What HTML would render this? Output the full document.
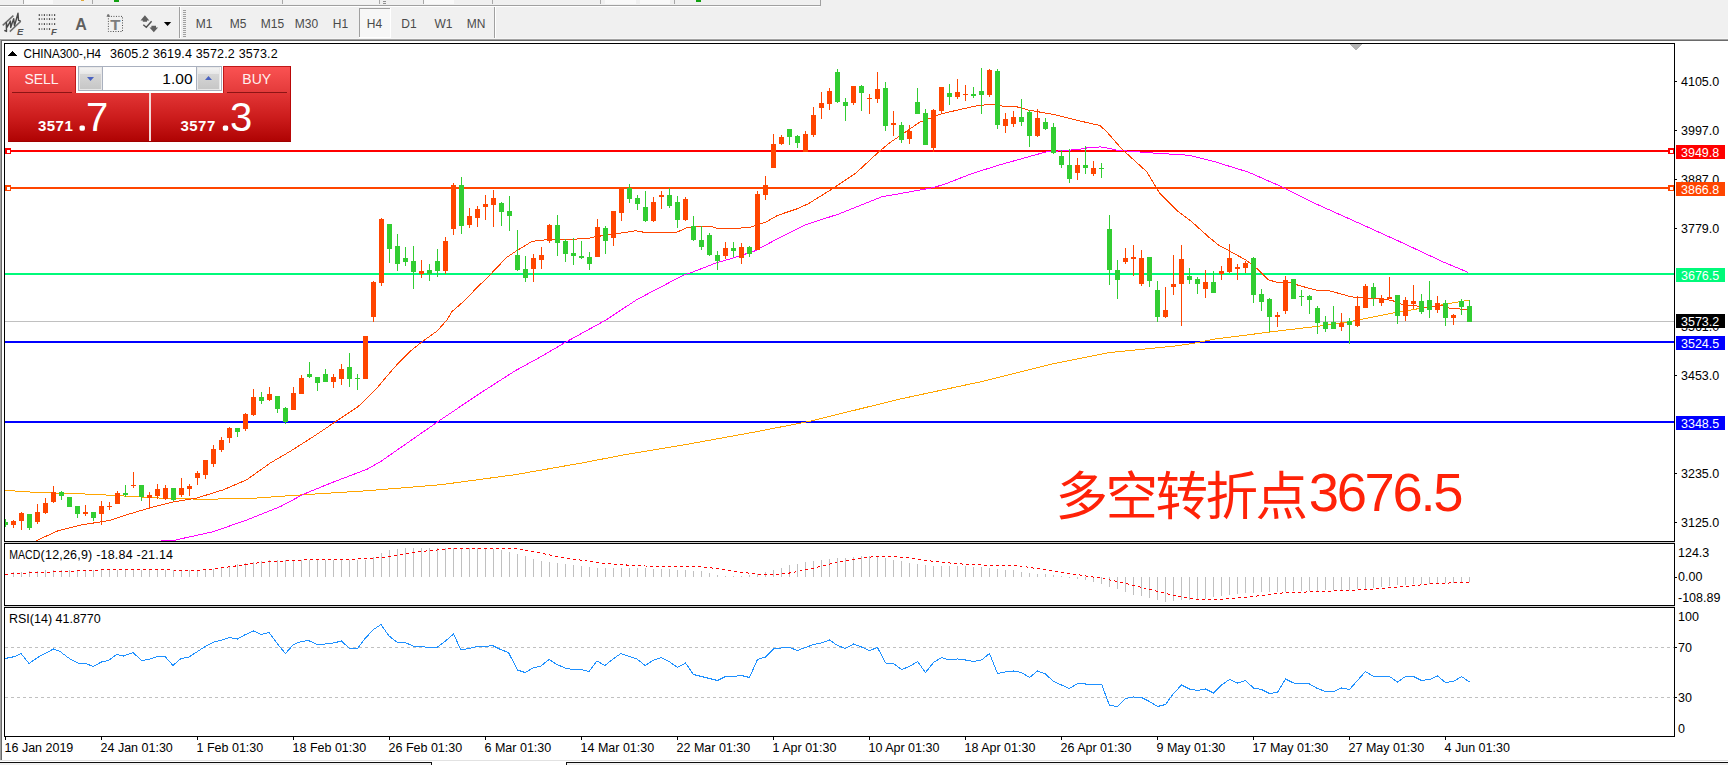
<!DOCTYPE html>
<html lang="zh"><head><meta charset="utf-8"><title>CHINA300-,H4</title>
<style>
html,body{margin:0;padding:0;width:1728px;height:765px;overflow:hidden;background:#f0f0f0}
svg{position:absolute;left:0;top:0;display:block}
text{font-family:"Liberation Sans","Noto Sans CJK SC",sans-serif;white-space:pre}
.c{shape-rendering:crispEdges}
</style></head><body>
<svg width="1728" height="765" viewBox="0 0 1728 765">
<defs>
<linearGradient id="gTab" x1="0" y1="0" x2="0" y2="1"><stop offset="0" stop-color="#fb5353"/><stop offset="1" stop-color="#e33a3a"/></linearGradient>
<linearGradient id="gBig" x1="0" y1="0" x2="0" y2="1"><stop offset="0" stop-color="#e23535"/><stop offset="0.5" stop-color="#cc1c1c"/><stop offset="1" stop-color="#ae0202"/></linearGradient>
<linearGradient id="gSpin" x1="0" y1="0" x2="0" y2="1"><stop offset="0" stop-color="#f4f4f4"/><stop offset="0.3" stop-color="#e6e6e6"/><stop offset="0.31" stop-color="#d6d6d6"/><stop offset="1" stop-color="#c6c6c6"/></linearGradient>
<clipPath id="cpMain"><rect x="5" y="44" width="1669" height="497"/></clipPath>
</defs>
<g class="c">
<rect x="0" y="0" width="1728" height="765" fill="#f0f0f0"/>
<rect x="0" y="5" width="820" height="1" fill="#a0a0a0"/>
<rect x="0" y="6" width="820" height="1" fill="#ffffff"/>
<rect x="820" y="0" width="1" height="6" fill="#a0a0a0"/>
<rect x="114" y="0" width="5" height="2" fill="#10a010"/>
<rect x="696" y="0" width="5" height="2" fill="#10a010"/>
<rect x="81" y="0" width="3" height="1" fill="#e0a838"/>
<rect x="23" y="0" width="1" height="4" fill="#a8a8a8"/>
<rect x="92" y="0" width="1" height="4" fill="#a8a8a8"/>
<rect x="282" y="0" width="1" height="4" fill="#a8a8a8"/>
<rect x="379" y="0" width="1" height="4" fill="#a8a8a8"/>
<rect x="423" y="0" width="1" height="4" fill="#a8a8a8"/>
<rect x="492" y="0" width="1" height="4" fill="#a8a8a8"/>
<rect x="600" y="0" width="1" height="4" fill="#a8a8a8"/>
<rect x="674" y="0" width="1" height="4" fill="#a8a8a8"/>
<rect x="24" y="0" width="29" height="4" fill="#f9f9f9"/>
<rect x="424" y="0" width="30" height="4" fill="#f9f9f9"/>
<rect x="605" y="0" width="31" height="4" fill="#f9f9f9"/>
<rect x="640" y="0" width="30" height="4" fill="#f9f9f9"/>
<rect x="283" y="0" width="96" height="4" fill="#f3f3f3"/>
<rect x="383" y="1" width="3" height="1" fill="#909090"/>
<rect x="383" y="3" width="3" height="1" fill="#909090"/>
<rect x="179" y="7" width="1" height="32" fill="#a0a0a0"/>
<rect x="180" y="7" width="1" height="32" fill="#ffffff"/>
<rect x="183" y="10" width="3" height="1" fill="#a0a0a0"/>
<rect x="183" y="12" width="3" height="1" fill="#a0a0a0"/>
<rect x="183" y="14" width="3" height="1" fill="#a0a0a0"/>
<rect x="183" y="16" width="3" height="1" fill="#a0a0a0"/>
<rect x="183" y="18" width="3" height="1" fill="#a0a0a0"/>
<rect x="183" y="20" width="3" height="1" fill="#a0a0a0"/>
<rect x="183" y="22" width="3" height="1" fill="#a0a0a0"/>
<rect x="183" y="24" width="3" height="1" fill="#a0a0a0"/>
<rect x="183" y="26" width="3" height="1" fill="#a0a0a0"/>
<rect x="183" y="28" width="3" height="1" fill="#a0a0a0"/>
<rect x="183" y="30" width="3" height="1" fill="#a0a0a0"/>
<rect x="183" y="32" width="3" height="1" fill="#a0a0a0"/>
<rect x="183" y="34" width="3" height="1" fill="#a0a0a0"/>
<rect x="183" y="36" width="3" height="1" fill="#a0a0a0"/>
<rect x="494" y="7" width="1" height="32" fill="#a0a0a0"/>
<rect x="495" y="7" width="1" height="32" fill="#ffffff"/>
<rect x="359" y="8" width="31" height="29" fill="#f7f7f7"/>
<rect x="359" y="8" width="1" height="29" fill="#a0a0a0"/>
<rect x="359" y="8" width="31" height="1" fill="#a0a0a0"/>
<rect x="390" y="8" width="1" height="29" fill="#ffffff"/>
<rect x="359" y="37" width="32" height="1" fill="#ffffff"/>
<rect x="0" y="38" width="1728" height="1" fill="#f6f6f6"/>
<rect x="0" y="39" width="1728" height="1" fill="#a3a3a3"/>
<rect x="0" y="40" width="1728" height="1" fill="#6a6a6a"/>
<rect x="0" y="41" width="1728" height="720" fill="#ffffff"/>
<rect x="0" y="39" width="1" height="722" fill="#a0a0a0"/>
<rect x="1" y="40" width="1" height="721" fill="#696969"/>
<rect x="0" y="760" width="1728" height="1" fill="#e2e2e2"/>
<rect x="0" y="761" width="1728" height="4" fill="#ffffff"/>
<rect x="0" y="762" width="432" height="1" fill="#101010"/>
<rect x="566" y="762" width="1162" height="1" fill="#101010"/>
<rect x="0" y="763" width="431" height="2" fill="#f0f0f0"/>
<rect x="567" y="763" width="1161" height="2" fill="#f0f0f0"/>
<rect x="431" y="762" width="1" height="3" fill="#101010"/>
<rect x="566" y="762" width="1" height="3" fill="#101010"/>
<rect x="4" y="43" width="1671" height="1" fill="#000"/>
<rect x="4" y="541" width="1671" height="1" fill="#000"/>
<rect x="4" y="43" width="1" height="499" fill="#000"/>
<rect x="1674" y="43" width="1" height="499" fill="#000"/>
<rect x="4" y="542" width="1671" height="1" fill="#d0d0d0"/>
<rect x="4" y="543" width="1671" height="1" fill="#000"/>
<rect x="4" y="605" width="1671" height="1" fill="#000"/>
<rect x="4" y="543" width="1" height="63" fill="#000"/>
<rect x="1674" y="543" width="1" height="63" fill="#000"/>
<rect x="4" y="606" width="1671" height="1" fill="#d0d0d0"/>
<rect x="4" y="607" width="1671" height="1" fill="#000"/>
<rect x="4" y="736" width="1671" height="1" fill="#000"/>
<rect x="4" y="607" width="1" height="130" fill="#000"/>
<rect x="1674" y="607" width="1" height="130" fill="#000"/>
</g>
<g class="c" clip-path="url(#cpMain)">
<polygon points="1349,44 1362,44 1355.5,50.5" fill="#b4b4b4"/>
<rect x="5" y="321" width="1669" height="1" fill="#c0c0c0"/>
<rect x="5" y="150" width="1669" height="2" fill="#FF0000"/>
<rect x="5" y="187" width="1669" height="2" fill="#FF4500"/>
<rect x="5" y="273" width="1669" height="2" fill="#00FA7A"/>
<rect x="5" y="341" width="1669" height="2" fill="#0000FF"/>
<rect x="5" y="421" width="1669" height="2" fill="#0000FF"/>
<rect x="5" y="148" width="6" height="6" fill="#FF0000"/>
<rect x="6.5" y="149.5" width="3" height="3" fill="#fff"/>
<rect x="1668" y="148" width="6" height="6" fill="#FF0000"/>
<rect x="1669.5" y="149.5" width="3" height="3" fill="#fff"/>
<rect x="5" y="185" width="6" height="6" fill="#FF4500"/>
<rect x="6.5" y="186.5" width="3" height="3" fill="#fff"/>
<rect x="1668" y="185" width="6" height="6" fill="#FF4500"/>
<rect x="1669.5" y="186.5" width="3" height="3" fill="#fff"/>
<polyline points="5.0,490.3 34.7,492.3 81.0,493.8 115.7,495.5 138.9,496.9 162.0,498.2 185.0,498.8 200.0,499.2 247.0,498.7 304.0,494.7 368.0,490.7 441.8,484.6 515.7,474.6 582.8,462.8 626.5,454.4 683.5,445.0 750.0,432.9 809.0,421.5 897.9,399.5 982.4,381.4 1054.0,363.6 1109.0,352.6 1172.5,346.3 1193.6,343.3 1214.7,339.1 1278.0,331.0 1317.0,326.4 1349.5,321.7 1367.0,318.3 1391.7,313.3 1416.6,309.0 1441.4,304.9 1458.8,301.9 1468.7,300.3" fill="none" stroke="#FFA500" stroke-width="1"/>
<polyline points="160.9,540.9 173.6,540.5 180.0,539.0 213.6,531.6 247.0,519.9 280.7,506.4 304.0,494.0 331.0,483.0 368.0,468.8 381.4,461.0 415.0,437.6 441.8,419.0 482.0,392.0 515.7,370.5 540.0,357.2 566.0,342.0 606.0,320.0 637.0,299.5 683.0,275.4 691.4,272.5 717.0,262.6 730.0,258.9 754.0,251.3 779.5,237.7 805.0,225.0 839.0,213.9 881.4,196.9 920.0,190.0 931.7,187.9 944.0,184.5 969.7,174.4 995.0,166.3 1003.5,163.8 1046.0,151.9 1080.0,149.3 1088.0,147.7 1100.7,146.9 1110.0,148.5 1117.6,150.3 1155.6,153.2 1189.4,155.3 1214.7,161.7 1248.5,172.2 1282.3,187.0 1316.0,203.9 1358.4,222.9 1400.6,242.0 1442.9,261.8 1468.2,272.4" fill="none" stroke="#FF00FF" stroke-width="1"/>
<polyline points="35.9,540.9 57.9,530.8 81.0,525.0 110.0,520.4 127.3,514.6 149.3,508.0 173.6,501.9 196.8,498.0 223.6,489.7 247.0,479.6 270.6,462.8 290.8,451.0 314.3,436.0 334.4,422.5 358.0,406.7 374.7,390.6 394.8,367.0 409.7,351.6 421.7,342.0 436.9,331.2 447.0,320.0 452.0,311.6 465.7,299.5 475.9,288.7 489.5,275.4 506.5,257.5 516.7,250.7 532.0,241.4 547.0,239.7 586.0,238.8 596.3,236.6 616.7,233.7 635.4,230.8 645.5,232.5 666.0,232.4 676.0,232.5 686.3,228.0 700.0,226.0 710.0,226.0 717.0,228.3 737.0,228.4 750.6,227.2 765.9,222.0 777.8,215.3 798.0,208.5 808.4,203.7 830.5,190.0 856.0,173.0 879.7,151.0 890.0,142.6 907.0,131.0 920.0,122.0 932.0,117.5 942.0,113.6 978.0,105.5 991.6,104.3 1001.8,106.0 1015.0,106.3 1029.0,110.2 1054.0,114.5 1080.0,121.0 1100.0,125.5 1107.0,132.0 1121.8,149.0 1147.0,172.0 1159.8,193.4 1176.7,210.3 1192.0,222.0 1209.0,237.3 1219.0,245.4 1229.3,250.9 1246.3,260.2 1258.2,269.6 1268.4,279.8 1276.9,282.3 1290.0,282.3 1298.6,285.4 1317.2,290.4 1329.7,290.8 1348.3,296.0 1357.0,297.8 1373.0,298.2 1391.7,300.3 1404.0,305.0 1416.6,305.9 1426.5,308.0 1441.4,305.3 1450.0,308.4 1466.2,309.4 1467.5,309.6" fill="none" stroke="#FF4500" stroke-width="1"/>
<rect x="5" y="519" width="1" height="8" fill="#32CD32"/>
<rect x="3" y="522" width="5" height="3" fill="#32CD32"/>
<rect x="13" y="520" width="1" height="8" fill="#FF4500"/>
<rect x="11" y="521" width="5" height="4" fill="#FF4500"/>
<rect x="21" y="512" width="1" height="18" fill="#FF4500"/>
<rect x="19" y="513" width="5" height="8" fill="#FF4500"/>
<rect x="29" y="514" width="1" height="16" fill="#32CD32"/>
<rect x="27" y="514" width="5" height="14" fill="#32CD32"/>
<rect x="37" y="504" width="1" height="20" fill="#FF4500"/>
<rect x="35" y="512" width="5" height="10" fill="#FF4500"/>
<rect x="45" y="498" width="1" height="16" fill="#FF4500"/>
<rect x="43" y="503" width="5" height="10" fill="#FF4500"/>
<rect x="53" y="486" width="1" height="17" fill="#FF4500"/>
<rect x="51" y="492" width="5" height="10" fill="#FF4500"/>
<rect x="61" y="491" width="1" height="9" fill="#32CD32"/>
<rect x="59" y="492" width="5" height="4" fill="#32CD32"/>
<rect x="69" y="497" width="1" height="10" fill="#32CD32"/>
<rect x="67" y="497" width="5" height="10" fill="#32CD32"/>
<rect x="77" y="506" width="1" height="12" fill="#32CD32"/>
<rect x="75" y="506" width="5" height="8" fill="#32CD32"/>
<rect x="85" y="505" width="1" height="11" fill="#FF4500"/>
<rect x="83" y="512" width="5" height="2" fill="#FF4500"/>
<rect x="93" y="512" width="1" height="9" fill="#32CD32"/>
<rect x="91" y="512" width="5" height="6" fill="#32CD32"/>
<rect x="101" y="501" width="1" height="24" fill="#FF4500"/>
<rect x="99" y="506" width="5" height="8" fill="#FF4500"/>
<rect x="109" y="502" width="1" height="8" fill="#FF4500"/>
<rect x="107" y="506" width="5" height="1" fill="#FF4500"/>
<rect x="117" y="491" width="1" height="13" fill="#FF4500"/>
<rect x="115" y="493" width="5" height="11" fill="#FF4500"/>
<rect x="125" y="485" width="1" height="12" fill="#32CD32"/>
<rect x="123" y="493" width="5" height="2" fill="#32CD32"/>
<rect x="133" y="472" width="1" height="16" fill="#FF4500"/>
<rect x="131" y="485" width="5" height="1" fill="#FF4500"/>
<rect x="141" y="485" width="1" height="16" fill="#32CD32"/>
<rect x="139" y="485" width="5" height="12" fill="#32CD32"/>
<rect x="149" y="492" width="1" height="17" fill="#FF4500"/>
<rect x="147" y="495" width="5" height="3" fill="#FF4500"/>
<rect x="157" y="484" width="1" height="15" fill="#FF4500"/>
<rect x="155" y="489" width="5" height="7" fill="#FF4500"/>
<rect x="165" y="485" width="1" height="15" fill="#FF4500"/>
<rect x="163" y="488" width="5" height="11" fill="#FF4500"/>
<rect x="173" y="488" width="1" height="13" fill="#32CD32"/>
<rect x="171" y="488" width="5" height="12" fill="#32CD32"/>
<rect x="181" y="478" width="1" height="19" fill="#FF4500"/>
<rect x="179" y="488" width="5" height="7" fill="#FF4500"/>
<rect x="189" y="484" width="1" height="12" fill="#FF4500"/>
<rect x="187" y="486" width="5" height="3" fill="#FF4500"/>
<rect x="197" y="471" width="1" height="14" fill="#FF4500"/>
<rect x="195" y="473" width="5" height="5" fill="#FF4500"/>
<rect x="205" y="460" width="1" height="19" fill="#FF4500"/>
<rect x="203" y="460" width="5" height="15" fill="#FF4500"/>
<rect x="213" y="445" width="1" height="22" fill="#FF4500"/>
<rect x="211" y="449" width="5" height="15" fill="#FF4500"/>
<rect x="221" y="437" width="1" height="15" fill="#FF4500"/>
<rect x="219" y="440" width="5" height="10" fill="#FF4500"/>
<rect x="229" y="427" width="1" height="16" fill="#FF4500"/>
<rect x="227" y="428" width="5" height="10" fill="#FF4500"/>
<rect x="237" y="428" width="1" height="9" fill="#32CD32"/>
<rect x="235" y="428" width="5" height="4" fill="#32CD32"/>
<rect x="245" y="413" width="1" height="18" fill="#FF4500"/>
<rect x="243" y="414" width="5" height="15" fill="#FF4500"/>
<rect x="253" y="389" width="1" height="27" fill="#FF4500"/>
<rect x="251" y="397" width="5" height="18" fill="#FF4500"/>
<rect x="261" y="392" width="1" height="12" fill="#32CD32"/>
<rect x="259" y="397" width="5" height="4" fill="#32CD32"/>
<rect x="269" y="387" width="1" height="14" fill="#FF4500"/>
<rect x="267" y="394" width="5" height="6" fill="#FF4500"/>
<rect x="277" y="396" width="1" height="17" fill="#32CD32"/>
<rect x="275" y="396" width="5" height="13" fill="#32CD32"/>
<rect x="285" y="407" width="1" height="17" fill="#32CD32"/>
<rect x="283" y="408" width="5" height="14" fill="#32CD32"/>
<rect x="293" y="387" width="1" height="23" fill="#FF4500"/>
<rect x="291" y="393" width="5" height="17" fill="#FF4500"/>
<rect x="301" y="375" width="1" height="19" fill="#FF4500"/>
<rect x="299" y="378" width="5" height="16" fill="#FF4500"/>
<rect x="309" y="362" width="1" height="16" fill="#32CD32"/>
<rect x="307" y="374" width="5" height="3" fill="#32CD32"/>
<rect x="317" y="377" width="1" height="14" fill="#32CD32"/>
<rect x="315" y="377" width="5" height="6" fill="#32CD32"/>
<rect x="325" y="369" width="1" height="13" fill="#32CD32"/>
<rect x="323" y="374" width="5" height="8" fill="#32CD32"/>
<rect x="333" y="374" width="1" height="14" fill="#FF4500"/>
<rect x="331" y="377" width="5" height="5" fill="#FF4500"/>
<rect x="341" y="364" width="1" height="21" fill="#FF4500"/>
<rect x="339" y="369" width="5" height="10" fill="#FF4500"/>
<rect x="349" y="353" width="1" height="34" fill="#32CD32"/>
<rect x="347" y="367" width="5" height="12" fill="#32CD32"/>
<rect x="357" y="374" width="1" height="16" fill="#32CD32"/>
<rect x="355" y="378" width="5" height="1" fill="#32CD32"/>
<rect x="365" y="336" width="1" height="43" fill="#FF4500"/>
<rect x="363" y="336" width="5" height="43" fill="#FF4500"/>
<rect x="373" y="281" width="1" height="41" fill="#FF4500"/>
<rect x="371" y="282" width="5" height="35" fill="#FF4500"/>
<rect x="381" y="218" width="1" height="68" fill="#FF4500"/>
<rect x="379" y="219" width="5" height="64" fill="#FF4500"/>
<rect x="389" y="224" width="1" height="39" fill="#32CD32"/>
<rect x="387" y="224" width="5" height="25" fill="#32CD32"/>
<rect x="397" y="234" width="1" height="37" fill="#32CD32"/>
<rect x="395" y="246" width="5" height="18" fill="#32CD32"/>
<rect x="405" y="247" width="1" height="19" fill="#32CD32"/>
<rect x="403" y="258" width="5" height="4" fill="#32CD32"/>
<rect x="413" y="246" width="1" height="43" fill="#32CD32"/>
<rect x="411" y="261" width="5" height="11" fill="#32CD32"/>
<rect x="421" y="260" width="1" height="18" fill="#FF4500"/>
<rect x="419" y="271" width="5" height="3" fill="#FF4500"/>
<rect x="429" y="264" width="1" height="17" fill="#32CD32"/>
<rect x="427" y="270" width="5" height="4" fill="#32CD32"/>
<rect x="437" y="249" width="1" height="28" fill="#32CD32"/>
<rect x="435" y="261" width="5" height="10" fill="#32CD32"/>
<rect x="445" y="237" width="1" height="37" fill="#FF4500"/>
<rect x="443" y="241" width="5" height="30" fill="#FF4500"/>
<rect x="453" y="183" width="1" height="52" fill="#FF4500"/>
<rect x="451" y="185" width="5" height="44" fill="#FF4500"/>
<rect x="461" y="177" width="1" height="57" fill="#32CD32"/>
<rect x="459" y="185" width="5" height="41" fill="#32CD32"/>
<rect x="469" y="208" width="1" height="20" fill="#FF4500"/>
<rect x="467" y="216" width="5" height="9" fill="#FF4500"/>
<rect x="477" y="206" width="1" height="21" fill="#FF4500"/>
<rect x="475" y="209" width="5" height="9" fill="#FF4500"/>
<rect x="485" y="195" width="1" height="25" fill="#FF4500"/>
<rect x="483" y="204" width="5" height="3" fill="#FF4500"/>
<rect x="493" y="190" width="1" height="37" fill="#FF4500"/>
<rect x="491" y="198" width="5" height="7" fill="#FF4500"/>
<rect x="501" y="202" width="1" height="24" fill="#32CD32"/>
<rect x="499" y="203" width="5" height="9" fill="#32CD32"/>
<rect x="509" y="196" width="1" height="35" fill="#32CD32"/>
<rect x="507" y="211" width="5" height="5" fill="#32CD32"/>
<rect x="517" y="230" width="1" height="41" fill="#32CD32"/>
<rect x="515" y="255" width="5" height="15" fill="#32CD32"/>
<rect x="525" y="256" width="1" height="26" fill="#32CD32"/>
<rect x="523" y="269" width="5" height="9" fill="#32CD32"/>
<rect x="533" y="254" width="1" height="28" fill="#FF4500"/>
<rect x="531" y="258" width="5" height="11" fill="#FF4500"/>
<rect x="541" y="247" width="1" height="22" fill="#FF4500"/>
<rect x="539" y="255" width="5" height="5" fill="#FF4500"/>
<rect x="549" y="224" width="1" height="19" fill="#FF4500"/>
<rect x="547" y="225" width="5" height="16" fill="#FF4500"/>
<rect x="557" y="215" width="1" height="41" fill="#32CD32"/>
<rect x="555" y="225" width="5" height="18" fill="#32CD32"/>
<rect x="565" y="239" width="1" height="23" fill="#32CD32"/>
<rect x="563" y="241" width="5" height="13" fill="#32CD32"/>
<rect x="573" y="238" width="1" height="27" fill="#32CD32"/>
<rect x="571" y="253" width="5" height="3" fill="#32CD32"/>
<rect x="581" y="241" width="1" height="18" fill="#32CD32"/>
<rect x="579" y="256" width="5" height="2" fill="#32CD32"/>
<rect x="589" y="252" width="1" height="18" fill="#32CD32"/>
<rect x="587" y="257" width="5" height="7" fill="#32CD32"/>
<rect x="597" y="219" width="1" height="38" fill="#FF4500"/>
<rect x="595" y="227" width="5" height="30" fill="#FF4500"/>
<rect x="605" y="226" width="1" height="28" fill="#32CD32"/>
<rect x="603" y="228" width="5" height="13" fill="#32CD32"/>
<rect x="613" y="211" width="1" height="35" fill="#FF4500"/>
<rect x="611" y="211" width="5" height="27" fill="#FF4500"/>
<rect x="621" y="188" width="1" height="33" fill="#FF4500"/>
<rect x="619" y="188" width="5" height="25" fill="#FF4500"/>
<rect x="629" y="184" width="1" height="19" fill="#32CD32"/>
<rect x="627" y="188" width="5" height="11" fill="#32CD32"/>
<rect x="637" y="195" width="1" height="15" fill="#32CD32"/>
<rect x="635" y="198" width="5" height="6" fill="#32CD32"/>
<rect x="645" y="191" width="1" height="31" fill="#32CD32"/>
<rect x="643" y="207" width="5" height="14" fill="#32CD32"/>
<rect x="653" y="197" width="1" height="25" fill="#FF4500"/>
<rect x="651" y="202" width="5" height="19" fill="#FF4500"/>
<rect x="661" y="191" width="1" height="18" fill="#FF4500"/>
<rect x="659" y="195" width="5" height="2" fill="#FF4500"/>
<rect x="669" y="188" width="1" height="20" fill="#32CD32"/>
<rect x="667" y="195" width="5" height="11" fill="#32CD32"/>
<rect x="677" y="196" width="1" height="32" fill="#32CD32"/>
<rect x="675" y="202" width="5" height="18" fill="#32CD32"/>
<rect x="685" y="197" width="1" height="24" fill="#FF4500"/>
<rect x="683" y="199" width="5" height="21" fill="#FF4500"/>
<rect x="693" y="216" width="1" height="25" fill="#32CD32"/>
<rect x="691" y="226" width="5" height="14" fill="#32CD32"/>
<rect x="701" y="226" width="1" height="24" fill="#32CD32"/>
<rect x="699" y="240" width="5" height="7" fill="#32CD32"/>
<rect x="709" y="233" width="1" height="23" fill="#32CD32"/>
<rect x="707" y="235" width="5" height="20" fill="#32CD32"/>
<rect x="717" y="251" width="1" height="19" fill="#32CD32"/>
<rect x="715" y="255" width="5" height="6" fill="#32CD32"/>
<rect x="725" y="242" width="1" height="17" fill="#FF4500"/>
<rect x="723" y="248" width="5" height="8" fill="#FF4500"/>
<rect x="733" y="242" width="1" height="15" fill="#32CD32"/>
<rect x="731" y="248" width="5" height="3" fill="#32CD32"/>
<rect x="741" y="243" width="1" height="21" fill="#FF4500"/>
<rect x="739" y="247" width="5" height="11" fill="#FF4500"/>
<rect x="749" y="246" width="1" height="11" fill="#32CD32"/>
<rect x="747" y="247" width="5" height="7" fill="#32CD32"/>
<rect x="757" y="191" width="1" height="59" fill="#FF4500"/>
<rect x="755" y="194" width="5" height="56" fill="#FF4500"/>
<rect x="765" y="176" width="1" height="24" fill="#FF4500"/>
<rect x="763" y="185" width="5" height="10" fill="#FF4500"/>
<rect x="773" y="134" width="1" height="34" fill="#FF4500"/>
<rect x="771" y="144" width="5" height="24" fill="#FF4500"/>
<rect x="781" y="135" width="1" height="10" fill="#FF4500"/>
<rect x="779" y="137" width="5" height="7" fill="#FF4500"/>
<rect x="789" y="129" width="1" height="16" fill="#32CD32"/>
<rect x="787" y="129" width="5" height="8" fill="#32CD32"/>
<rect x="797" y="135" width="1" height="13" fill="#32CD32"/>
<rect x="795" y="136" width="5" height="7" fill="#32CD32"/>
<rect x="805" y="131" width="1" height="21" fill="#FF4500"/>
<rect x="803" y="134" width="5" height="18" fill="#FF4500"/>
<rect x="813" y="107" width="1" height="30" fill="#FF4500"/>
<rect x="811" y="115" width="5" height="20" fill="#FF4500"/>
<rect x="821" y="92" width="1" height="27" fill="#FF4500"/>
<rect x="819" y="103" width="5" height="5" fill="#FF4500"/>
<rect x="829" y="88" width="1" height="22" fill="#FF4500"/>
<rect x="827" y="91" width="5" height="13" fill="#FF4500"/>
<rect x="837" y="69" width="1" height="34" fill="#32CD32"/>
<rect x="835" y="72" width="5" height="30" fill="#32CD32"/>
<rect x="845" y="98" width="1" height="23" fill="#32CD32"/>
<rect x="843" y="102" width="5" height="4" fill="#32CD32"/>
<rect x="853" y="86" width="1" height="19" fill="#FF4500"/>
<rect x="851" y="86" width="5" height="17" fill="#FF4500"/>
<rect x="861" y="85" width="1" height="26" fill="#32CD32"/>
<rect x="859" y="86" width="5" height="7" fill="#32CD32"/>
<rect x="869" y="94" width="1" height="20" fill="#FF4500"/>
<rect x="867" y="98" width="5" height="1" fill="#FF4500"/>
<rect x="877" y="72" width="1" height="31" fill="#FF4500"/>
<rect x="875" y="89" width="5" height="10" fill="#FF4500"/>
<rect x="885" y="82" width="1" height="49" fill="#32CD32"/>
<rect x="883" y="88" width="5" height="38" fill="#32CD32"/>
<rect x="893" y="111" width="1" height="25" fill="#FF4500"/>
<rect x="891" y="123" width="5" height="2" fill="#FF4500"/>
<rect x="901" y="122" width="1" height="21" fill="#32CD32"/>
<rect x="899" y="125" width="5" height="15" fill="#32CD32"/>
<rect x="909" y="125" width="1" height="19" fill="#FF4500"/>
<rect x="907" y="131" width="5" height="8" fill="#FF4500"/>
<rect x="917" y="88" width="1" height="26" fill="#32CD32"/>
<rect x="915" y="102" width="5" height="12" fill="#32CD32"/>
<rect x="925" y="109" width="1" height="36" fill="#32CD32"/>
<rect x="923" y="113" width="5" height="32" fill="#32CD32"/>
<rect x="933" y="109" width="1" height="43" fill="#FF4500"/>
<rect x="931" y="110" width="5" height="38" fill="#FF4500"/>
<rect x="941" y="87" width="1" height="27" fill="#FF4500"/>
<rect x="939" y="87" width="5" height="24" fill="#FF4500"/>
<rect x="949" y="84" width="1" height="21" fill="#32CD32"/>
<rect x="947" y="93" width="5" height="4" fill="#32CD32"/>
<rect x="957" y="79" width="1" height="20" fill="#FF4500"/>
<rect x="955" y="92" width="5" height="5" fill="#FF4500"/>
<rect x="965" y="85" width="1" height="16" fill="#FF4500"/>
<rect x="963" y="94" width="5" height="1" fill="#FF4500"/>
<rect x="973" y="87" width="1" height="11" fill="#32CD32"/>
<rect x="971" y="94" width="5" height="2" fill="#32CD32"/>
<rect x="981" y="68" width="1" height="46" fill="#32CD32"/>
<rect x="979" y="91" width="5" height="4" fill="#32CD32"/>
<rect x="989" y="69" width="1" height="28" fill="#FF4500"/>
<rect x="987" y="70" width="5" height="25" fill="#FF4500"/>
<rect x="997" y="69" width="1" height="60" fill="#32CD32"/>
<rect x="995" y="71" width="5" height="54" fill="#32CD32"/>
<rect x="1005" y="113" width="1" height="20" fill="#FF4500"/>
<rect x="1003" y="119" width="5" height="7" fill="#FF4500"/>
<rect x="1013" y="111" width="1" height="16" fill="#FF4500"/>
<rect x="1011" y="117" width="5" height="7" fill="#FF4500"/>
<rect x="1021" y="99" width="1" height="27" fill="#32CD32"/>
<rect x="1019" y="117" width="5" height="5" fill="#32CD32"/>
<rect x="1029" y="110" width="1" height="37" fill="#32CD32"/>
<rect x="1027" y="112" width="5" height="24" fill="#32CD32"/>
<rect x="1037" y="109" width="1" height="28" fill="#FF4500"/>
<rect x="1035" y="118" width="5" height="18" fill="#FF4500"/>
<rect x="1045" y="118" width="1" height="12" fill="#32CD32"/>
<rect x="1043" y="122" width="5" height="7" fill="#32CD32"/>
<rect x="1053" y="123" width="1" height="31" fill="#32CD32"/>
<rect x="1051" y="127" width="5" height="26" fill="#32CD32"/>
<rect x="1061" y="150" width="1" height="18" fill="#32CD32"/>
<rect x="1059" y="156" width="5" height="9" fill="#32CD32"/>
<rect x="1069" y="149" width="1" height="34" fill="#32CD32"/>
<rect x="1067" y="165" width="5" height="14" fill="#32CD32"/>
<rect x="1077" y="158" width="1" height="22" fill="#FF4500"/>
<rect x="1075" y="165" width="5" height="8" fill="#FF4500"/>
<rect x="1085" y="146" width="1" height="28" fill="#32CD32"/>
<rect x="1083" y="165" width="5" height="3" fill="#32CD32"/>
<rect x="1093" y="161" width="1" height="15" fill="#FF4500"/>
<rect x="1091" y="168" width="5" height="6" fill="#FF4500"/>
<rect x="1101" y="163" width="1" height="15" fill="#32CD32"/>
<rect x="1099" y="168" width="5" height="1" fill="#32CD32"/>
<rect x="1109" y="215" width="1" height="70" fill="#32CD32"/>
<rect x="1107" y="229" width="5" height="41" fill="#32CD32"/>
<rect x="1117" y="260" width="1" height="39" fill="#32CD32"/>
<rect x="1115" y="270" width="5" height="10" fill="#32CD32"/>
<rect x="1125" y="248" width="1" height="16" fill="#FF4500"/>
<rect x="1123" y="258" width="5" height="4" fill="#FF4500"/>
<rect x="1133" y="245" width="1" height="31" fill="#FF4500"/>
<rect x="1131" y="257" width="5" height="2" fill="#FF4500"/>
<rect x="1141" y="250" width="1" height="36" fill="#FF4500"/>
<rect x="1139" y="258" width="5" height="26" fill="#FF4500"/>
<rect x="1149" y="257" width="1" height="30" fill="#32CD32"/>
<rect x="1147" y="257" width="5" height="24" fill="#32CD32"/>
<rect x="1157" y="281" width="1" height="41" fill="#32CD32"/>
<rect x="1155" y="290" width="5" height="27" fill="#32CD32"/>
<rect x="1165" y="287" width="1" height="31" fill="#FF4500"/>
<rect x="1163" y="310" width="5" height="7" fill="#FF4500"/>
<rect x="1173" y="255" width="1" height="40" fill="#FF4500"/>
<rect x="1171" y="284" width="5" height="3" fill="#FF4500"/>
<rect x="1181" y="245" width="1" height="81" fill="#FF4500"/>
<rect x="1179" y="259" width="5" height="25" fill="#FF4500"/>
<rect x="1189" y="268" width="1" height="16" fill="#32CD32"/>
<rect x="1187" y="276" width="5" height="4" fill="#32CD32"/>
<rect x="1197" y="277" width="1" height="17" fill="#32CD32"/>
<rect x="1195" y="279" width="5" height="5" fill="#32CD32"/>
<rect x="1205" y="270" width="1" height="28" fill="#FF4500"/>
<rect x="1203" y="282" width="5" height="7" fill="#FF4500"/>
<rect x="1213" y="271" width="1" height="22" fill="#32CD32"/>
<rect x="1211" y="282" width="5" height="11" fill="#32CD32"/>
<rect x="1221" y="266" width="1" height="14" fill="#FF4500"/>
<rect x="1219" y="271" width="5" height="3" fill="#FF4500"/>
<rect x="1229" y="244" width="1" height="29" fill="#FF4500"/>
<rect x="1227" y="258" width="5" height="14" fill="#FF4500"/>
<rect x="1237" y="264" width="1" height="16" fill="#FF4500"/>
<rect x="1235" y="267" width="5" height="2" fill="#FF4500"/>
<rect x="1245" y="261" width="1" height="12" fill="#FF4500"/>
<rect x="1243" y="263" width="5" height="5" fill="#FF4500"/>
<rect x="1253" y="257" width="1" height="46" fill="#32CD32"/>
<rect x="1251" y="258" width="5" height="37" fill="#32CD32"/>
<rect x="1261" y="289" width="1" height="22" fill="#32CD32"/>
<rect x="1259" y="294" width="5" height="8" fill="#32CD32"/>
<rect x="1269" y="298" width="1" height="34" fill="#32CD32"/>
<rect x="1267" y="299" width="5" height="18" fill="#32CD32"/>
<rect x="1277" y="312" width="1" height="15" fill="#FF4500"/>
<rect x="1275" y="315" width="5" height="2" fill="#FF4500"/>
<rect x="1285" y="276" width="1" height="38" fill="#FF4500"/>
<rect x="1283" y="280" width="5" height="31" fill="#FF4500"/>
<rect x="1293" y="279" width="1" height="20" fill="#32CD32"/>
<rect x="1291" y="279" width="5" height="20" fill="#32CD32"/>
<rect x="1301" y="290" width="1" height="16" fill="#32CD32"/>
<rect x="1299" y="296" width="5" height="1" fill="#32CD32"/>
<rect x="1309" y="295" width="1" height="19" fill="#32CD32"/>
<rect x="1307" y="296" width="5" height="4" fill="#32CD32"/>
<rect x="1317" y="306" width="1" height="28" fill="#32CD32"/>
<rect x="1315" y="308" width="5" height="15" fill="#32CD32"/>
<rect x="1325" y="316" width="1" height="16" fill="#32CD32"/>
<rect x="1323" y="322" width="5" height="7" fill="#32CD32"/>
<rect x="1333" y="306" width="1" height="23" fill="#32CD32"/>
<rect x="1331" y="322" width="5" height="7" fill="#32CD32"/>
<rect x="1341" y="313" width="1" height="18" fill="#FF4500"/>
<rect x="1339" y="323" width="5" height="4" fill="#FF4500"/>
<rect x="1349" y="318" width="1" height="26" fill="#32CD32"/>
<rect x="1347" y="321" width="5" height="4" fill="#32CD32"/>
<rect x="1357" y="296" width="1" height="31" fill="#FF4500"/>
<rect x="1355" y="306" width="5" height="20" fill="#FF4500"/>
<rect x="1365" y="284" width="1" height="24" fill="#FF4500"/>
<rect x="1363" y="286" width="5" height="22" fill="#FF4500"/>
<rect x="1373" y="283" width="1" height="23" fill="#32CD32"/>
<rect x="1371" y="287" width="5" height="11" fill="#32CD32"/>
<rect x="1381" y="295" width="1" height="11" fill="#FF4500"/>
<rect x="1379" y="298" width="5" height="5" fill="#FF4500"/>
<rect x="1389" y="277" width="1" height="22" fill="#FF4500"/>
<rect x="1387" y="297" width="5" height="2" fill="#FF4500"/>
<rect x="1397" y="295" width="1" height="29" fill="#32CD32"/>
<rect x="1395" y="295" width="5" height="21" fill="#32CD32"/>
<rect x="1405" y="297" width="1" height="24" fill="#FF4500"/>
<rect x="1403" y="300" width="5" height="16" fill="#FF4500"/>
<rect x="1413" y="285" width="1" height="24" fill="#FF4500"/>
<rect x="1411" y="301" width="5" height="3" fill="#FF4500"/>
<rect x="1421" y="294" width="1" height="20" fill="#32CD32"/>
<rect x="1419" y="301" width="5" height="11" fill="#32CD32"/>
<rect x="1429" y="281" width="1" height="37" fill="#32CD32"/>
<rect x="1427" y="300" width="5" height="10" fill="#32CD32"/>
<rect x="1437" y="296" width="1" height="17" fill="#FF4500"/>
<rect x="1435" y="303" width="5" height="7" fill="#FF4500"/>
<rect x="1445" y="300" width="1" height="26" fill="#32CD32"/>
<rect x="1443" y="303" width="5" height="15" fill="#32CD32"/>
<rect x="1453" y="314" width="1" height="11" fill="#FF4500"/>
<rect x="1451" y="315" width="5" height="3" fill="#FF4500"/>
<rect x="1461" y="299" width="1" height="16" fill="#32CD32"/>
<rect x="1459" y="301" width="5" height="6" fill="#32CD32"/>
<rect x="1469" y="300" width="1" height="22" fill="#32CD32"/>
<rect x="1467" y="306" width="5" height="16" fill="#32CD32"/>
</g>
<g class="c">
<rect x="13" y="572" width="1" height="5" fill="#c0c0c0"/>
<rect x="21" y="572" width="1" height="5" fill="#c0c0c0"/>
<rect x="29" y="571" width="1" height="6" fill="#c0c0c0"/>
<rect x="37" y="571" width="1" height="6" fill="#c0c0c0"/>
<rect x="45" y="570" width="1" height="7" fill="#c0c0c0"/>
<rect x="53" y="570" width="1" height="7" fill="#c0c0c0"/>
<rect x="61" y="570" width="1" height="7" fill="#c0c0c0"/>
<rect x="69" y="570" width="1" height="7" fill="#c0c0c0"/>
<rect x="77" y="570" width="1" height="7" fill="#c0c0c0"/>
<rect x="85" y="570" width="1" height="7" fill="#c0c0c0"/>
<rect x="93" y="570" width="1" height="7" fill="#c0c0c0"/>
<rect x="101" y="570" width="1" height="7" fill="#c0c0c0"/>
<rect x="109" y="570" width="1" height="7" fill="#c0c0c0"/>
<rect x="117" y="570" width="1" height="7" fill="#c0c0c0"/>
<rect x="125" y="570" width="1" height="7" fill="#c0c0c0"/>
<rect x="133" y="570" width="1" height="7" fill="#c0c0c0"/>
<rect x="141" y="570" width="1" height="7" fill="#c0c0c0"/>
<rect x="149" y="570" width="1" height="7" fill="#c0c0c0"/>
<rect x="157" y="570" width="1" height="7" fill="#c0c0c0"/>
<rect x="165" y="570" width="1" height="7" fill="#c0c0c0"/>
<rect x="173" y="570" width="1" height="7" fill="#c0c0c0"/>
<rect x="181" y="570" width="1" height="7" fill="#c0c0c0"/>
<rect x="189" y="570" width="1" height="7" fill="#c0c0c0"/>
<rect x="197" y="570" width="1" height="7" fill="#c0c0c0"/>
<rect x="205" y="570" width="1" height="7" fill="#c0c0c0"/>
<rect x="213" y="569" width="1" height="8" fill="#c0c0c0"/>
<rect x="221" y="567" width="1" height="10" fill="#c0c0c0"/>
<rect x="229" y="566" width="1" height="11" fill="#c0c0c0"/>
<rect x="237" y="564" width="1" height="13" fill="#c0c0c0"/>
<rect x="245" y="563" width="1" height="14" fill="#c0c0c0"/>
<rect x="253" y="562" width="1" height="15" fill="#c0c0c0"/>
<rect x="261" y="561" width="1" height="16" fill="#c0c0c0"/>
<rect x="269" y="560" width="1" height="17" fill="#c0c0c0"/>
<rect x="277" y="560" width="1" height="17" fill="#c0c0c0"/>
<rect x="285" y="560" width="1" height="17" fill="#c0c0c0"/>
<rect x="293" y="560" width="1" height="17" fill="#c0c0c0"/>
<rect x="301" y="560" width="1" height="17" fill="#c0c0c0"/>
<rect x="309" y="560" width="1" height="17" fill="#c0c0c0"/>
<rect x="317" y="560" width="1" height="17" fill="#c0c0c0"/>
<rect x="325" y="560" width="1" height="17" fill="#c0c0c0"/>
<rect x="333" y="560" width="1" height="17" fill="#c0c0c0"/>
<rect x="341" y="560" width="1" height="17" fill="#c0c0c0"/>
<rect x="349" y="560" width="1" height="17" fill="#c0c0c0"/>
<rect x="357" y="560" width="1" height="17" fill="#c0c0c0"/>
<rect x="365" y="560" width="1" height="17" fill="#c0c0c0"/>
<rect x="373" y="557" width="1" height="20" fill="#c0c0c0"/>
<rect x="381" y="553" width="1" height="24" fill="#c0c0c0"/>
<rect x="389" y="550" width="1" height="27" fill="#c0c0c0"/>
<rect x="397" y="549" width="1" height="28" fill="#c0c0c0"/>
<rect x="405" y="548" width="1" height="29" fill="#c0c0c0"/>
<rect x="413" y="548" width="1" height="29" fill="#c0c0c0"/>
<rect x="421" y="548" width="1" height="29" fill="#c0c0c0"/>
<rect x="429" y="548" width="1" height="29" fill="#c0c0c0"/>
<rect x="437" y="548" width="1" height="29" fill="#c0c0c0"/>
<rect x="445" y="548" width="1" height="29" fill="#c0c0c0"/>
<rect x="453" y="548" width="1" height="29" fill="#c0c0c0"/>
<rect x="461" y="548" width="1" height="29" fill="#c0c0c0"/>
<rect x="469" y="548" width="1" height="29" fill="#c0c0c0"/>
<rect x="477" y="548" width="1" height="29" fill="#c0c0c0"/>
<rect x="485" y="549" width="1" height="28" fill="#c0c0c0"/>
<rect x="493" y="549" width="1" height="28" fill="#c0c0c0"/>
<rect x="501" y="550" width="1" height="27" fill="#c0c0c0"/>
<rect x="509" y="552" width="1" height="25" fill="#c0c0c0"/>
<rect x="517" y="554" width="1" height="23" fill="#c0c0c0"/>
<rect x="525" y="556" width="1" height="21" fill="#c0c0c0"/>
<rect x="533" y="559" width="1" height="18" fill="#c0c0c0"/>
<rect x="541" y="561" width="1" height="16" fill="#c0c0c0"/>
<rect x="549" y="562" width="1" height="15" fill="#c0c0c0"/>
<rect x="557" y="563" width="1" height="14" fill="#c0c0c0"/>
<rect x="565" y="564" width="1" height="13" fill="#c0c0c0"/>
<rect x="573" y="565" width="1" height="12" fill="#c0c0c0"/>
<rect x="581" y="566" width="1" height="11" fill="#c0c0c0"/>
<rect x="589" y="567" width="1" height="10" fill="#c0c0c0"/>
<rect x="597" y="568" width="1" height="9" fill="#c0c0c0"/>
<rect x="605" y="568" width="1" height="9" fill="#c0c0c0"/>
<rect x="613" y="568" width="1" height="9" fill="#c0c0c0"/>
<rect x="621" y="568" width="1" height="9" fill="#c0c0c0"/>
<rect x="629" y="568" width="1" height="9" fill="#c0c0c0"/>
<rect x="637" y="568" width="1" height="9" fill="#c0c0c0"/>
<rect x="645" y="568" width="1" height="9" fill="#c0c0c0"/>
<rect x="653" y="569" width="1" height="8" fill="#c0c0c0"/>
<rect x="661" y="569" width="1" height="8" fill="#c0c0c0"/>
<rect x="669" y="569" width="1" height="8" fill="#c0c0c0"/>
<rect x="677" y="570" width="1" height="7" fill="#c0c0c0"/>
<rect x="685" y="570" width="1" height="7" fill="#c0c0c0"/>
<rect x="693" y="571" width="1" height="6" fill="#c0c0c0"/>
<rect x="701" y="571" width="1" height="6" fill="#c0c0c0"/>
<rect x="709" y="573" width="1" height="4" fill="#c0c0c0"/>
<rect x="717" y="575" width="1" height="2" fill="#c0c0c0"/>
<rect x="725" y="576" width="1" height="1" fill="#c0c0c0"/>
<rect x="733" y="576" width="1" height="1" fill="#c0c0c0"/>
<rect x="741" y="576" width="1" height="1" fill="#c0c0c0"/>
<rect x="749" y="575" width="1" height="2" fill="#c0c0c0"/>
<rect x="757" y="574" width="1" height="3" fill="#c0c0c0"/>
<rect x="765" y="572" width="1" height="5" fill="#c0c0c0"/>
<rect x="773" y="570" width="1" height="7" fill="#c0c0c0"/>
<rect x="781" y="568" width="1" height="9" fill="#c0c0c0"/>
<rect x="789" y="565" width="1" height="12" fill="#c0c0c0"/>
<rect x="797" y="564" width="1" height="13" fill="#c0c0c0"/>
<rect x="805" y="562" width="1" height="15" fill="#c0c0c0"/>
<rect x="813" y="561" width="1" height="16" fill="#c0c0c0"/>
<rect x="821" y="560" width="1" height="17" fill="#c0c0c0"/>
<rect x="829" y="559" width="1" height="18" fill="#c0c0c0"/>
<rect x="837" y="558" width="1" height="19" fill="#c0c0c0"/>
<rect x="845" y="558" width="1" height="19" fill="#c0c0c0"/>
<rect x="853" y="557" width="1" height="20" fill="#c0c0c0"/>
<rect x="861" y="556" width="1" height="21" fill="#c0c0c0"/>
<rect x="869" y="556" width="1" height="21" fill="#c0c0c0"/>
<rect x="877" y="557" width="1" height="20" fill="#c0c0c0"/>
<rect x="885" y="558" width="1" height="19" fill="#c0c0c0"/>
<rect x="893" y="560" width="1" height="17" fill="#c0c0c0"/>
<rect x="901" y="561" width="1" height="16" fill="#c0c0c0"/>
<rect x="909" y="563" width="1" height="14" fill="#c0c0c0"/>
<rect x="917" y="564" width="1" height="13" fill="#c0c0c0"/>
<rect x="925" y="565" width="1" height="12" fill="#c0c0c0"/>
<rect x="933" y="566" width="1" height="11" fill="#c0c0c0"/>
<rect x="941" y="566" width="1" height="11" fill="#c0c0c0"/>
<rect x="949" y="566" width="1" height="11" fill="#c0c0c0"/>
<rect x="957" y="566" width="1" height="11" fill="#c0c0c0"/>
<rect x="965" y="566" width="1" height="11" fill="#c0c0c0"/>
<rect x="973" y="567" width="1" height="10" fill="#c0c0c0"/>
<rect x="981" y="567" width="1" height="10" fill="#c0c0c0"/>
<rect x="989" y="568" width="1" height="9" fill="#c0c0c0"/>
<rect x="997" y="569" width="1" height="8" fill="#c0c0c0"/>
<rect x="1005" y="570" width="1" height="7" fill="#c0c0c0"/>
<rect x="1013" y="570" width="1" height="7" fill="#c0c0c0"/>
<rect x="1021" y="572" width="1" height="5" fill="#c0c0c0"/>
<rect x="1029" y="573" width="1" height="4" fill="#c0c0c0"/>
<rect x="1037" y="574" width="1" height="3" fill="#c0c0c0"/>
<rect x="1045" y="574" width="1" height="3" fill="#c0c0c0"/>
<rect x="1053" y="575" width="1" height="2" fill="#c0c0c0"/>
<rect x="1061" y="576" width="1" height="1" fill="#c0c0c0"/>
<rect x="1069" y="577" width="1" height="1" fill="#c0c0c0"/>
<rect x="1077" y="577" width="1" height="2" fill="#c0c0c0"/>
<rect x="1085" y="577" width="1" height="3" fill="#c0c0c0"/>
<rect x="1093" y="577" width="1" height="5" fill="#c0c0c0"/>
<rect x="1101" y="577" width="1" height="7" fill="#c0c0c0"/>
<rect x="1109" y="577" width="1" height="10" fill="#c0c0c0"/>
<rect x="1117" y="577" width="1" height="12" fill="#c0c0c0"/>
<rect x="1125" y="577" width="1" height="15" fill="#c0c0c0"/>
<rect x="1133" y="577" width="1" height="18" fill="#c0c0c0"/>
<rect x="1141" y="577" width="1" height="19" fill="#c0c0c0"/>
<rect x="1149" y="577" width="1" height="21" fill="#c0c0c0"/>
<rect x="1157" y="577" width="1" height="23" fill="#c0c0c0"/>
<rect x="1165" y="577" width="1" height="25" fill="#c0c0c0"/>
<rect x="1173" y="577" width="1" height="24" fill="#c0c0c0"/>
<rect x="1181" y="577" width="1" height="23" fill="#c0c0c0"/>
<rect x="1189" y="577" width="1" height="23" fill="#c0c0c0"/>
<rect x="1197" y="577" width="1" height="23" fill="#c0c0c0"/>
<rect x="1205" y="577" width="1" height="22" fill="#c0c0c0"/>
<rect x="1213" y="577" width="1" height="20" fill="#c0c0c0"/>
<rect x="1221" y="577" width="1" height="19" fill="#c0c0c0"/>
<rect x="1229" y="577" width="1" height="18" fill="#c0c0c0"/>
<rect x="1237" y="577" width="1" height="17" fill="#c0c0c0"/>
<rect x="1245" y="577" width="1" height="16" fill="#c0c0c0"/>
<rect x="1253" y="577" width="1" height="16" fill="#c0c0c0"/>
<rect x="1261" y="577" width="1" height="15" fill="#c0c0c0"/>
<rect x="1269" y="577" width="1" height="15" fill="#c0c0c0"/>
<rect x="1277" y="577" width="1" height="15" fill="#c0c0c0"/>
<rect x="1285" y="577" width="1" height="15" fill="#c0c0c0"/>
<rect x="1293" y="577" width="1" height="14" fill="#c0c0c0"/>
<rect x="1301" y="577" width="1" height="14" fill="#c0c0c0"/>
<rect x="1309" y="577" width="1" height="14" fill="#c0c0c0"/>
<rect x="1317" y="577" width="1" height="14" fill="#c0c0c0"/>
<rect x="1325" y="577" width="1" height="13" fill="#c0c0c0"/>
<rect x="1333" y="577" width="1" height="13" fill="#c0c0c0"/>
<rect x="1341" y="577" width="1" height="13" fill="#c0c0c0"/>
<rect x="1349" y="577" width="1" height="13" fill="#c0c0c0"/>
<rect x="1357" y="577" width="1" height="12" fill="#c0c0c0"/>
<rect x="1365" y="577" width="1" height="12" fill="#c0c0c0"/>
<rect x="1373" y="577" width="1" height="11" fill="#c0c0c0"/>
<rect x="1381" y="577" width="1" height="10" fill="#c0c0c0"/>
<rect x="1389" y="577" width="1" height="9" fill="#c0c0c0"/>
<rect x="1397" y="577" width="1" height="8" fill="#c0c0c0"/>
<rect x="1405" y="577" width="1" height="8" fill="#c0c0c0"/>
<rect x="1413" y="577" width="1" height="7" fill="#c0c0c0"/>
<rect x="1421" y="577" width="1" height="7" fill="#c0c0c0"/>
<rect x="1429" y="577" width="1" height="7" fill="#c0c0c0"/>
<rect x="1437" y="577" width="1" height="6" fill="#c0c0c0"/>
<rect x="1445" y="577" width="1" height="6" fill="#c0c0c0"/>
<rect x="1453" y="577" width="1" height="6" fill="#c0c0c0"/>
<rect x="1461" y="577" width="1" height="5" fill="#c0c0c0"/>
<rect x="1469" y="577" width="1" height="5" fill="#c0c0c0"/>
<polyline points="5.0,574.2 13.0,573.9 21.0,573.5 29.0,573.0 37.0,572.6 45.0,572.2 53.0,571.9 61.0,571.6 69.0,571.2 77.0,570.9 85.0,570.6 93.0,570.3 101.0,570.0 109.0,569.8 117.0,569.6 125.0,569.4 133.0,569.3 141.0,569.4 149.0,569.6 157.0,569.7 165.0,569.9 173.0,570.0 181.0,570.2 189.0,570.3 197.0,570.4 205.0,569.9 213.0,568.9 221.0,568.0 229.0,566.9 237.0,565.8 245.0,564.6 253.0,563.5 261.0,562.4 269.0,561.9 277.0,561.4 285.0,560.9 293.0,560.4 301.0,560.0 309.0,559.8 317.0,559.7 325.0,559.6 333.0,559.4 341.0,559.3 349.0,559.1 357.0,559.0 365.0,558.8 373.0,558.4 381.0,557.5 389.0,556.5 397.0,555.4 405.0,554.2 413.0,552.9 421.0,551.6 429.0,550.7 437.0,550.0 445.0,549.3 453.0,548.6 461.0,548.0 469.0,548.0 477.0,548.0 485.0,548.0 493.0,548.0 501.0,548.0 509.0,548.0 517.0,549.0 525.0,550.2 533.0,551.6 541.0,553.2 549.0,554.8 557.0,556.4 565.0,557.8 573.0,559.0 581.0,560.1 589.0,561.4 597.0,562.5 605.0,563.4 613.0,564.0 621.0,564.6 629.0,565.2 637.0,565.8 645.0,566.0 653.0,566.1 661.0,566.2 669.0,566.2 677.0,566.3 685.0,566.4 693.0,566.4 701.0,566.6 709.0,567.6 717.0,568.6 725.0,569.8 733.0,571.0 741.0,572.1 749.0,573.2 757.0,574.1 765.0,574.7 773.0,574.7 781.0,573.9 789.0,573.1 797.0,571.6 805.0,570.0 813.0,568.2 821.0,566.2 829.0,564.2 837.0,562.6 845.0,561.0 853.0,559.5 861.0,558.4 869.0,557.1 877.0,556.8 885.0,556.6 893.0,556.7 901.0,557.3 909.0,557.9 917.0,559.0 925.0,560.2 933.0,561.3 941.0,562.1 949.0,562.9 957.0,563.7 965.0,564.2 973.0,564.6 981.0,565.0 989.0,565.5 997.0,565.6 1005.0,565.8 1013.0,565.9 1021.0,566.1 1029.0,567.4 1037.0,568.5 1045.0,569.8 1053.0,571.0 1061.0,572.1 1069.0,573.4 1077.0,574.5 1085.0,575.8 1093.0,577.0 1101.0,578.2 1109.0,579.8 1117.0,581.4 1125.0,583.2 1133.0,585.2 1141.0,587.2 1149.0,589.2 1157.0,591.2 1165.0,593.2 1173.0,595.2 1181.0,597.1 1189.0,598.1 1197.0,599.1 1205.0,599.5 1213.0,599.5 1221.0,599.4 1229.0,598.8 1237.0,598.1 1245.0,597.4 1253.0,596.6 1261.0,595.5 1269.0,594.5 1277.0,593.4 1285.0,592.8 1293.0,592.5 1301.0,592.2 1309.0,591.9 1317.0,591.6 1325.0,591.3 1333.0,591.0 1341.0,590.7 1349.0,590.4 1357.0,590.1 1365.0,589.6 1373.0,589.0 1381.0,588.4 1389.0,587.8 1397.0,587.2 1405.0,586.5 1413.0,585.7 1421.0,584.9 1429.0,584.1 1437.0,583.6 1445.0,583.2 1453.0,582.8 1461.0,582.4 1469.0,582.0" fill="none" stroke="#FF0000" stroke-width="1" stroke-dasharray="3 3"/>
<line x1="5" y1="647.5" x2="1674" y2="647.5" stroke="#c0c0c0" stroke-width="1" stroke-dasharray="3 3"/>
<line x1="5" y1="697.5" x2="1674" y2="697.5" stroke="#c0c0c0" stroke-width="1" stroke-dasharray="3 3"/>
</g>
<polyline points="5.0,658.5 5.0,658.5 15.0,656.5 21.0,653.5 29.0,663.5 37.5,657.5 53.5,649.0 60.0,651.5 70.0,659.0 79.0,663.5 86.0,663.5 93.0,666.5 101.5,662.0 108.5,660.5 116.5,654.5 123.5,656.0 133.0,652.5 141.5,660.5 149.0,659.5 157.0,656.5 165.0,656.5 173.0,665.5 181.0,658.5 189.0,657.0 197.5,651.5 206.0,646.0 214.0,642.0 222.0,640.0 229.5,637.5 237.5,639.0 245.5,634.5 253.5,631.0 261.5,634.5 269.0,632.5 277.5,644.0 285.5,653.5 293.5,644.5 301.0,641.5 308.5,640.5 318.0,645.0 325.5,644.0 333.5,643.0 341.5,641.0 349.5,648.5 357.5,648.5 365.5,638.0 373.5,629.5 381.0,624.5 389.0,636.0 397.0,642.0 405.0,642.5 413.0,646.0 421.0,646.5 429.0,647.5 437.0,647.5 445.0,641.5 453.5,634.0 461.0,650.0 469.0,648.5 477.0,646.5 485.0,646.5 492.5,645.5 500.5,649.5 508.5,652.5 517.5,670.0 525.0,672.5 533.0,668.0 541.0,666.0 549.0,659.5 557.0,664.5 565.0,668.0 573.0,669.5 581.0,669.5 589.0,671.5 597.0,661.0 605.0,665.5 613.0,659.0 621.0,653.5 629.0,656.5 637.0,659.0 645.0,665.5 653.0,660.5 661.0,657.5 669.0,661.5 677.5,667.5 685.5,663.0 693.5,674.5 701.5,676.5 709.5,678.5 717.5,680.5 725.5,676.5 733.5,676.5 741.5,675.5 749.5,677.5 757.5,659.5 765.5,657.0 773.5,649.0 781.5,648.0 789.5,647.5 797.5,650.5 800.0,649.5 813.5,644.5 821.5,643.0 829.5,640.0 837.5,645.5 845.5,648.5 853.5,644.0 861.5,647.0 869.5,650.5 877.5,647.5 885.5,663.0 893.5,663.5 901.5,669.5 909.5,666.5 917.5,661.5 925.5,672.5 933.5,662.5 941.5,657.5 949.5,660.0 957.5,659.0 965.5,660.0 973.5,661.5 981.5,660.0 989.5,653.5 997.5,673.5 1005.5,672.0 1013.5,671.0 1021.5,672.5 1029.5,677.5 1037.5,671.0 1045.5,674.0 1053.5,681.5 1061.5,685.0 1069.5,688.5 1077.5,683.5 1085.5,684.0 1093.5,684.0 1101.5,684.0 1109.5,705.5 1117.5,706.5 1125.5,698.5 1133.5,697.0 1141.5,697.5 1149.5,701.5 1157.5,706.5 1165.5,704.5 1173.5,693.5 1181.5,685.0 1189.5,689.0 1197.5,690.5 1205.5,689.0 1213.5,693.0 1221.5,685.0 1229.5,679.5 1237.5,683.0 1245.5,680.5 1253.5,688.0 1261.5,689.5 1269.5,693.5 1277.5,692.5 1285.5,679.0 1293.5,683.0 1301.5,683.5 1309.5,684.0 1317.5,688.5 1325.5,691.5 1333.5,691.5 1341.5,688.0 1349.5,689.5 1357.5,680.5 1365.5,671.5 1373.5,676.5 1381.5,676.5 1389.5,676.5 1397.5,682.0 1405.5,676.5 1413.5,676.5 1421.5,680.5 1429.5,679.5 1437.5,676.0 1445.5,682.5 1453.5,681.5 1461.5,676.5 1469.5,682.0" fill="none" stroke="#1E90FF" stroke-width="1" class="c"/>
<g class="c">
<rect x="1675" y="81" width="2" height="1" fill="#000"/>
<rect x="1675" y="130" width="2" height="1" fill="#000"/>
<rect x="1675" y="179" width="2" height="1" fill="#000"/>
<rect x="1675" y="228" width="2" height="1" fill="#000"/>
<rect x="1675" y="375" width="2" height="1" fill="#000"/>
<rect x="1675" y="473" width="2" height="1" fill="#000"/>
<rect x="1675" y="522" width="2" height="1" fill="#000"/>
<rect x="1675" y="577" width="2" height="1" fill="#000"/>
<rect x="1675" y="647" width="2" height="1" fill="#000"/>
<rect x="1675" y="697" width="2" height="1" fill="#000"/>
</g>
<text x="1681" y="85.5" font-size="12.5" fill="#000" text-anchor="start" font-weight="normal">4105.0</text>
<text x="1681" y="134.5" font-size="12.5" fill="#000" text-anchor="start" font-weight="normal">3997.0</text>
<text x="1681" y="183.5" font-size="12.5" fill="#000" text-anchor="start" font-weight="normal">3887.0</text>
<text x="1681" y="232.5" font-size="12.5" fill="#000" text-anchor="start" font-weight="normal">3779.0</text>
<text x="1681" y="330.5" font-size="12.5" fill="#000" text-anchor="start" font-weight="normal">3561.0</text>
<text x="1681" y="379.5" font-size="12.5" fill="#000" text-anchor="start" font-weight="normal">3453.0</text>
<text x="1681" y="477.5" font-size="12.5" fill="#000" text-anchor="start" font-weight="normal">3235.0</text>
<text x="1681" y="526.5" font-size="12.5" fill="#000" text-anchor="start" font-weight="normal">3125.0</text>
<rect class="c" x="1676" y="145" width="49" height="14" fill="#FF0000"/>
<text x="1681" y="156.5" font-size="12.5" fill="#fff" text-anchor="start" font-weight="normal">3949.8</text>
<rect class="c" x="1676" y="182" width="49" height="14" fill="#FF4500"/>
<text x="1681" y="193.5" font-size="12.5" fill="#fff" text-anchor="start" font-weight="normal">3866.8</text>
<rect class="c" x="1676" y="268" width="49" height="14" fill="#00FA7A"/>
<text x="1681" y="279.5" font-size="12.5" fill="#fff" text-anchor="start" font-weight="normal">3676.5</text>
<rect class="c" x="1676" y="314" width="49" height="14" fill="#000000"/>
<text x="1681" y="325.5" font-size="12.5" fill="#fff" text-anchor="start" font-weight="normal">3573.2</text>
<rect class="c" x="1676" y="336" width="49" height="14" fill="#0000FF"/>
<text x="1681" y="347.5" font-size="12.5" fill="#fff" text-anchor="start" font-weight="normal">3524.5</text>
<rect class="c" x="1676" y="416" width="49" height="14" fill="#0000FF"/>
<text x="1681" y="427.5" font-size="12.5" fill="#fff" text-anchor="start" font-weight="normal">3348.5</text>
<text x="1678" y="557" font-size="12.5" fill="#000" text-anchor="start" font-weight="normal">124.3</text>
<text x="1678" y="580.5" font-size="12.5" fill="#000" text-anchor="start" font-weight="normal">0.00</text>
<text x="1678" y="602" font-size="12.5" fill="#000" text-anchor="start" font-weight="normal">-108.89</text>
<text x="1678" y="621" font-size="12.5" fill="#000" text-anchor="start" font-weight="normal">100</text>
<text x="1678" y="652" font-size="12.5" fill="#000" text-anchor="start" font-weight="normal">70</text>
<text x="1678" y="702" font-size="12.5" fill="#000" text-anchor="start" font-weight="normal">30</text>
<text x="1678" y="733" font-size="12.5" fill="#000" text-anchor="start" font-weight="normal">0</text>
<g class="c">
<rect x="5" y="737" width="1" height="3" fill="#000"/>
<rect x="101" y="737" width="1" height="3" fill="#000"/>
<rect x="197" y="737" width="1" height="3" fill="#000"/>
<rect x="293" y="737" width="1" height="3" fill="#000"/>
<rect x="389" y="737" width="1" height="3" fill="#000"/>
<rect x="485" y="737" width="1" height="3" fill="#000"/>
<rect x="581" y="737" width="1" height="3" fill="#000"/>
<rect x="677" y="737" width="1" height="3" fill="#000"/>
<rect x="773" y="737" width="1" height="3" fill="#000"/>
<rect x="869" y="737" width="1" height="3" fill="#000"/>
<rect x="965" y="737" width="1" height="3" fill="#000"/>
<rect x="1061" y="737" width="1" height="3" fill="#000"/>
<rect x="1157" y="737" width="1" height="3" fill="#000"/>
<rect x="1253" y="737" width="1" height="3" fill="#000"/>
<rect x="1349" y="737" width="1" height="3" fill="#000"/>
<rect x="1445" y="737" width="1" height="3" fill="#000"/>
</g>
<text x="4.5" y="752" font-size="12.5" fill="#000" text-anchor="start" font-weight="normal">16 Jan 2019</text>
<text x="100.5" y="752" font-size="12.5" fill="#000" text-anchor="start" font-weight="normal">24 Jan 01:30</text>
<text x="196.5" y="752" font-size="12.5" fill="#000" text-anchor="start" font-weight="normal">1 Feb 01:30</text>
<text x="292.5" y="752" font-size="12.5" fill="#000" text-anchor="start" font-weight="normal">18 Feb 01:30</text>
<text x="388.5" y="752" font-size="12.5" fill="#000" text-anchor="start" font-weight="normal">26 Feb 01:30</text>
<text x="484.5" y="752" font-size="12.5" fill="#000" text-anchor="start" font-weight="normal">6 Mar 01:30</text>
<text x="580.5" y="752" font-size="12.5" fill="#000" text-anchor="start" font-weight="normal">14 Mar 01:30</text>
<text x="676.5" y="752" font-size="12.5" fill="#000" text-anchor="start" font-weight="normal">22 Mar 01:30</text>
<text x="772.5" y="752" font-size="12.5" fill="#000" text-anchor="start" font-weight="normal">1 Apr 01:30</text>
<text x="868.5" y="752" font-size="12.5" fill="#000" text-anchor="start" font-weight="normal">10 Apr 01:30</text>
<text x="964.5" y="752" font-size="12.5" fill="#000" text-anchor="start" font-weight="normal">18 Apr 01:30</text>
<text x="1060.5" y="752" font-size="12.5" fill="#000" text-anchor="start" font-weight="normal">26 Apr 01:30</text>
<text x="1156.5" y="752" font-size="12.5" fill="#000" text-anchor="start" font-weight="normal">9 May 01:30</text>
<text x="1252.5" y="752" font-size="12.5" fill="#000" text-anchor="start" font-weight="normal">17 May 01:30</text>
<text x="1348.5" y="752" font-size="12.5" fill="#000" text-anchor="start" font-weight="normal">27 May 01:30</text>
<text x="1444.5" y="752" font-size="12.5" fill="#000" text-anchor="start" font-weight="normal">4 Jun 01:30</text>
<polygon class="c" points="8,56 17,56 12.5,51" fill="#000"/>
<text x="23.5" y="58" font-size="12.5" fill="#000" text-anchor="start" font-weight="normal" textLength="77.5" lengthAdjust="spacingAndGlyphs">CHINA300-,H4</text>
<text x="110" y="58" font-size="12.5" fill="#000" text-anchor="start" font-weight="normal" textLength="167.7" lengthAdjust="spacing">3605.2 3619.4 3572.2 3573.2</text>
<text x="9.3" y="559" font-size="12.5" fill="#000" text-anchor="start" font-weight="normal" textLength="31" lengthAdjust="spacingAndGlyphs">MACD</text>
<text x="40.6" y="559" font-size="12.5" fill="#000" text-anchor="start" font-weight="normal" textLength="132.4" lengthAdjust="spacing">(12,26,9) -18.84 -21.14</text>
<text x="9" y="623" font-size="12.5" fill="#000" text-anchor="start" font-weight="normal">RSI(14) 41.8770</text>
<text x="1055.5" y="513" font-size="52.5" fill="#ff2208"><tspan dy="1.5" letter-spacing="-2.5">多空转折点</tspan><tspan dy="-3.8" dx="3.2" font-size="54.4" letter-spacing="-2.3">3676.5</tspan></text>
<g class="c">
<rect x="8" y="66" width="283" height="76" fill="url(#gBig)"/>
<rect x="8" y="66" width="68" height="27" fill="url(#gTab)"/>
<rect x="223" y="66" width="68" height="27" fill="url(#gTab)"/>
<rect x="8" y="93" width="283" height="49" fill="url(#gBig)"/>
<rect x="76" y="66" width="147" height="27" fill="#ffffff"/>
<rect x="149" y="93" width="2" height="49" fill="#f3dada"/>
<rect x="8" y="66" width="68" height="1" fill="#c01818"/>
<rect x="223" y="66" width="68" height="1" fill="#c01818"/>
<rect x="8" y="66" width="1" height="76" fill="#b80808"/>
<rect x="290" y="66" width="1" height="76" fill="#b80808"/>
<rect x="8" y="141" width="283" height="1" fill="#a00000"/>
<rect x="75" y="66" width="1" height="27" fill="#c01818"/>
<rect x="223" y="66" width="1" height="27" fill="#c01818"/>
<rect x="12" y="92" width="60" height="1" fill="#8c1414"/>
<rect x="227" y="92" width="60" height="1" fill="#8c1414"/>
<rect x="78" y="66" width="144" height="25" fill="#ffffff"/>
<rect x="78.5" y="66.5" width="143" height="24" fill="#fff" stroke="#a9b0be" stroke-width="1"/>
<rect x="79.5" y="67.5" width="22" height="22" fill="url(#gSpin)" stroke="#e8e8e8" stroke-width="1"/>
<rect x="197.5" y="67.5" width="22" height="22" fill="url(#gSpin)" stroke="#e8e8e8" stroke-width="1"/>
<rect x="102" y="67" width="1" height="23" fill="#a9b0be"/>
<rect x="196" y="67" width="1" height="23" fill="#a9b0be"/>
</g>
<polygon points="87,77 94,77 90.5,81" fill="#4a62c0"/>
<polygon points="205,80 212,80 208.5,76" fill="#4a62c0"/>
<text x="41.5" y="84" font-size="14" fill="#fff0f0" text-anchor="middle" font-weight="normal">SELL</text>
<text x="256.7" y="84" font-size="14" fill="#fff0f0" text-anchor="middle" font-weight="normal">BUY</text>
<text x="192.5" y="83.8" font-size="15.5" fill="#000" text-anchor="end" font-weight="normal">1.00</text>
<text x="38" y="130.5" font-size="15" fill="#fff" text-anchor="start" font-weight="bold" letter-spacing="0.45">3571</text>
<text x="180.5" y="130.5" font-size="15" fill="#fff" text-anchor="start" font-weight="bold" letter-spacing="0.45">3577</text>
<rect x="79.5" y="125.5" width="5.4" height="5.2" rx="1.6" fill="#fff"/>
<rect x="222.8" y="125.5" width="5.4" height="5.2" rx="1.6" fill="#fff"/>
<text x="86" y="130.5" font-size="40" fill="#fff" text-anchor="start" font-weight="normal">7</text>
<text x="230" y="130.5" font-size="40" fill="#fff" text-anchor="start" font-weight="normal">3</text>
<text x="204" y="28" font-size="12" fill="#4a4a4a" text-anchor="middle" font-weight="normal">M1</text>
<text x="238" y="28" font-size="12" fill="#4a4a4a" text-anchor="middle" font-weight="normal">M5</text>
<text x="272.5" y="28" font-size="12" fill="#4a4a4a" text-anchor="middle" font-weight="normal">M15</text>
<text x="306.5" y="28" font-size="12" fill="#4a4a4a" text-anchor="middle" font-weight="normal">M30</text>
<text x="340.5" y="28" font-size="12" fill="#4a4a4a" text-anchor="middle" font-weight="normal">H1</text>
<text x="374.5" y="28" font-size="12" fill="#4a4a4a" text-anchor="middle" font-weight="normal">H4</text>
<text x="409" y="28" font-size="12" fill="#4a4a4a" text-anchor="middle" font-weight="normal">D1</text>
<text x="443.5" y="28" font-size="12" fill="#4a4a4a" text-anchor="middle" font-weight="normal">W1</text>
<text x="476" y="28" font-size="12" fill="#4a4a4a" text-anchor="middle" font-weight="normal">MN</text>
<path d="M2.7 25.4 L13.4 15.6 M9.8 31.6 L20.8 21.3" stroke="#6e6e6e" stroke-width="1.5" fill="none"/>
<polyline points="4.3,30.3 6.5,31.4 6.3,22.6 7.3,27 10.4,21 10.7,27.5 13.7,18.6 14.5,25.8 18,13.2 18.5,20.3 20.6,21" stroke="#484848" stroke-width="1.4" fill="none" stroke-linejoin="round"/>
<text x="17" y="34.8" font-size="9.5" fill="#555" text-anchor="start" font-weight="bold" font-style="italic">E</text>
<rect x="38.70" y="14.1" width="1.2" height="1.9" fill="#505050"/>
<rect x="41.25" y="14.1" width="1.2" height="1.9" fill="#8a8a8a"/>
<rect x="43.80" y="14.1" width="1.2" height="1.9" fill="#505050"/>
<rect x="46.35" y="14.1" width="1.2" height="1.9" fill="#8a8a8a"/>
<rect x="48.90" y="14.1" width="1.2" height="1.9" fill="#505050"/>
<rect x="51.45" y="14.1" width="1.2" height="1.9" fill="#8a8a8a"/>
<rect x="54.00" y="14.1" width="1.2" height="1.9" fill="#505050"/>
<rect x="38.70" y="18.1" width="1.2" height="1.9" fill="#505050"/>
<rect x="41.25" y="18.1" width="1.2" height="1.9" fill="#8a8a8a"/>
<rect x="43.80" y="18.1" width="1.2" height="1.9" fill="#505050"/>
<rect x="46.35" y="18.1" width="1.2" height="1.9" fill="#8a8a8a"/>
<rect x="48.90" y="18.1" width="1.2" height="1.9" fill="#505050"/>
<rect x="51.45" y="18.1" width="1.2" height="1.9" fill="#8a8a8a"/>
<rect x="54.00" y="18.1" width="1.2" height="1.9" fill="#505050"/>
<rect x="38.70" y="23.1" width="1.2" height="1.9" fill="#505050"/>
<rect x="41.25" y="23.1" width="1.2" height="1.9" fill="#8a8a8a"/>
<rect x="43.80" y="23.1" width="1.2" height="1.9" fill="#505050"/>
<rect x="46.35" y="23.1" width="1.2" height="1.9" fill="#8a8a8a"/>
<rect x="48.90" y="23.1" width="1.2" height="1.9" fill="#505050"/>
<rect x="51.45" y="23.1" width="1.2" height="1.9" fill="#8a8a8a"/>
<rect x="54.00" y="23.1" width="1.2" height="1.9" fill="#505050"/>
<rect x="38.70" y="28.1" width="1.2" height="1.9" fill="#505050"/>
<rect x="41.25" y="28.1" width="1.2" height="1.9" fill="#8a8a8a"/>
<rect x="43.80" y="28.1" width="1.2" height="1.9" fill="#505050"/>
<rect x="46.35" y="28.1" width="1.2" height="1.9" fill="#8a8a8a"/>
<rect x="48.90" y="28.1" width="1.2" height="1.9" fill="#505050"/>
<text x="51" y="34.8" font-size="9.5" fill="#555" text-anchor="start" font-weight="bold" font-style="italic">F</text>
<text x="81" y="30" font-size="16" fill="#5f5f5f" text-anchor="middle" font-weight="bold">A</text>
<rect x="108.4" y="16.4" width="14.1" height="15.1" fill="none" stroke="#4c4c4c" stroke-width="1" stroke-dasharray="1 1.52"/>
<polygon points="106.5,16.8 107.5,14.2 109,14.2 110,16.8" fill="#707070"/>
<text x="110.3" y="29.5" font-size="14.5" fill="#7d7d7d" text-anchor="start" font-weight="bold" textLength="10.2" lengthAdjust="spacingAndGlyphs">T</text>
<polygon points="140.5,20.5 144.9,15.3 149.3,20.5 147,20.5 147,21.7 142.8,21.7 142.8,20.5" fill="#5f5f5f"/>
<polygon points="149.5,27.4 151.4,27.4 151.4,25.8 156,25.8 156,27.4 158.1,27.4 153.8,32.2" fill="#5f5f5f"/>
<path d="M143.3 24.8 L146.3 27.3 L151.6 21.2" stroke="#505050" stroke-width="1.4" fill="none"/>
<polygon points="163.9,22 171.2,22 167.5,25.9" fill="#000"/>
</svg>
</body></html>
